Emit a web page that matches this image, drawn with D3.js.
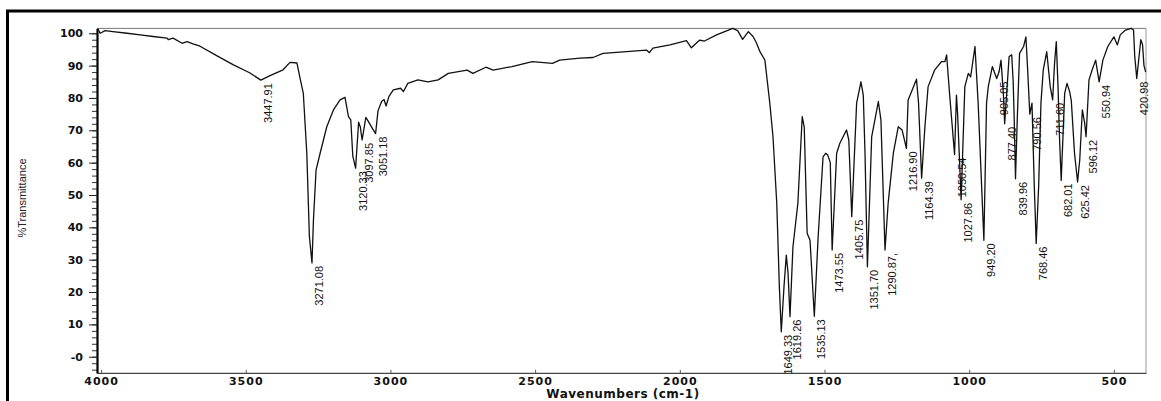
<!DOCTYPE html>
<html>
<head>
<meta charset="utf-8">
<script src="https://cdn.jsdelivr.net/npm/d3@7"></script>
<style>
  body { margin: 0; background: #fff; }
  svg { display: block; }
</style>
</head>
<body>
<div id="chart"></div>
<script>
const layout = {
    width: 1161,
    height: 401,
    left: 97,
    right: 1146,
    top: 28.4,
    bottom: 372.9
};

// spectrum (wavenumber in cm-1, %T)
const wavenumbers = [
    4012, 4003, 3986, 3959, 3910, 3865, 3820, 3772, 3768, 3751, 3720, 3703, 3682, 3658,
    3599, 3544, 3485, 3448, 3416, 3371, 3347, 3323, 3312, 3301, 3289, 3280, 3271.08,
    3266, 3257, 3243, 3220, 3197, 3174, 3157, 3145, 3137, 3130, 3120.33, 3110, 3104,
    3097.85, 3085, 3078, 3062, 3051.18, 3043, 3030, 3022, 3015, 3005, 2990, 2965, 2955,
    2940, 2905, 2870, 2835, 2800, 2735, 2715, 2670, 2645, 2580, 2510, 2440, 2415, 2345,
    2300, 2265, 2184, 2115, 2105, 2093, 2034, 1977, 1960, 1948, 1931, 1915, 1873, 1817,
    1800, 1783, 1763, 1747, 1735, 1723, 1706, 1689, 1678, 1665, 1656, 1649.33, 1640,
    1632, 1626, 1619.26, 1609, 1592, 1577, 1570, 1560, 1550, 1535.13, 1522, 1505, 1496,
    1489, 1480, 1473.55, 1458, 1447, 1424, 1416, 1405.75, 1389, 1374, 1366, 1360,
    1351.70, 1337, 1314, 1305, 1290.87, 1280, 1262, 1245, 1232, 1216.90, 1211, 1182,
    1175, 1164.39, 1153, 1142, 1119, 1096, 1084, 1078, 1067, 1050.54, 1044, 1040,
    1027.86, 1015, 1003, 995, 980, 969, 949.20, 940, 934, 920, 905.05, 897, 890, 882,
    877.40, 862, 853, 848, 844, 839.96, 834, 826, 812, 804, 798, 790.56, 783, 775,
    768.46, 760, 752, 744, 732, 720, 711.60, 705, 699, 693, 688, 682.01, 670, 662, 653,
    647, 636, 625.42, 618, 609, 601, 596.12, 586, 575, 563, 550.94, 538, 521, 500, 488,
    478, 460, 440, 432, 428, 420.98, 414, 407, 401, 396, 390
];
const transmittance = [
    101.5, 100, 100.8, 100.5, 100, 99.5, 99, 98.5, 98, 98.5, 96.9, 97.4, 96.7, 96,
    93, 90.3, 87.7, 85.5, 86.9, 88.7, 91, 90.8, 86, 81.4, 62.9, 37.1, 29,
    42.3, 57.7, 62.9, 71.1, 76.3, 79.4, 80.2, 74.2, 73.2, 62, 58.3, 72.5, 71,
    67, 74, 73, 70.5, 69, 76, 79, 79.5, 77.5, 80.5, 82.5, 83, 82,
    84.5, 85.6, 85, 85.6, 87.6, 88.6, 87.6, 89.5, 88.6, 89.7, 91.2, 90.7, 91.7, 92.3,
    92.5, 93.8, 94.3, 94.8, 94, 95.4, 96.4, 97.7, 95.5, 96.5, 97.9, 97.6, 99.5, 101.5,
    100.8, 98.1, 100.5, 99, 97, 94.3, 91.7, 78.4, 68, 47.5, 21.6, 7.7, 21.6,
    31.4, 25.8, 12.4, 34, 47.5, 74.2, 71, 38.2, 36, 12.5, 37, 61.8, 62.9,
    62.4, 60, 33, 62.9, 66, 70.1, 67, 43.3, 78.4, 85, 80.9, 62.9,
    27.8, 68, 78.9, 73.2, 33, 47.5, 63, 71.1, 70.1, 64.4, 79.4, 85.8,
    78.4, 55.2, 71.1, 83.5, 88.7, 91.2, 91.2, 93.3, 80.4, 62.5, 80.9, 75,
    48.5, 83.5, 87.6, 86.5, 95.9, 78.4, 36, 78.4, 83.5, 89.7, 86, 88, 91.7, 81.4,
    72, 92.8, 93.3, 85, 72, 55, 73, 93.8, 95.9, 98.9, 88.7, 75, 78.4, 52.6,
    35, 52.6, 78.4, 88.7, 94.3, 83.5, 79.4, 90.7, 97.4, 83.5, 68, 54.5, 81.4, 84.5, 82,
    79, 62.9, 54, 60.8, 76.3, 72.2, 68, 85.6, 88.7, 91.7, 85, 91.7, 95.9, 98.9, 96.4,
    99.5, 101, 101.5, 101, 93, 86, 92, 98, 96.5, 90, 88
];

// annotated minima
const peakWavenumbers = [3447.91, 3271.08, 3120.33, 3097.85, 3051.18, 1649.33, 1619.26, 1535.13,
    1473.55, 1405.75, 1351.70, 1290.87, 1216.90, 1164.39, 1050.54, 1027.86, 949.20, 905.05,
    877.40, 839.96, 790.56, 768.46, 711.60, 682.01, 625.42, 596.12, 550.94, 420.98];
const peakTransmittance = [85.5, 29, 58.3, 67, 69, 7.7, 12.4, 12.5,
    33, 43.3, 27.8, 33, 64.4, 55.2, 62.5, 48.5, 36, 86,
    72, 55, 75, 35, 79.4, 54.5, 54, 68, 85, 86];
const peakLabels = ["3447.91", "3271.08", "3120.33", "3097.85", "3051.18", "1649.33", "1619.26", "1535.13",
    "1473.55", "1405.75", "1351.70", "1290.87,", "1216.90", "1164.39", "1050.54", "1027.86", "949.20", "905.05",
    "877.40", "839.96", "790.56", "768.46", "711.60", "682.01", "625.42", "596.12", "550.94", "420.98"];

const xTicks = [4000, 3500, 3000, 2500, 2000, 1500, 1000, 500];
const yTicks = [100, 90, 80, 70, 60, 50, 40, 30, 20, 10, 0];
const yTickLabels = ["100", "90", "80", "70", "60", "50", "40", "30", "20", "10", "-0"];

let svg = d3.select("#chart").append("svg")
    .attr("width", layout.width)
    .attr("height", layout.height);

let xScale = d3.scaleLinear()
    .domain([4014, 389])
    .range([layout.left, layout.right]);
let yScale = d3.scaleLinear()
    .domain([-5, 101.5])
    .range([layout.bottom, layout.top]);

// outer frame of the scan
svg.append("rect")
    .attr("x", 7.5)
    .attr("y", 11)
    .attr("width", 1200)
    .attr("height", 420)
    .attr("fill", "none")
    .attr("stroke", "#000")
    .attr("stroke-width", 3);

// plot box: top and right edges are faint
svg.append("line")
    .attr("x1", layout.left).attr("x2", layout.right)
    .attr("y1", layout.top).attr("y2", layout.top)
    .attr("stroke", "#777").attr("stroke-width", 1);
svg.append("line")
    .attr("x1", layout.right).attr("x2", layout.right)
    .attr("y1", layout.top).attr("y2", layout.bottom)
    .attr("stroke", "#999").attr("stroke-width", 1);

// x axis
let xAxis = svg.append("g")
    .attr("transform", `translate(0,${layout.bottom})`)
    .call(d3.axisBottom(xScale).tickValues(xTicks).tickSizeInner(-3).tickSizeOuter(0)
        .tickPadding(4).tickFormat(d3.format("d")));
xAxis.select(".domain").attr("stroke", "#444").attr("stroke-width", 1.3);
xAxis.selectAll("line").attr("stroke", "#555");
xAxis.selectAll("text")
    .attr("font-family", "'DejaVu Sans', sans-serif")
    .attr("font-weight", "bold")
    .attr("font-size", 11)
    .attr("letter-spacing", 1)
    .attr("fill", "#111");

// y axis, minor ticks every 2
let yMinor = svg.append("g")
    .attr("transform", `translate(${layout.left},0)`)
    .call(d3.axisLeft(yScale).tickValues(d3.range(-4, 101, 2)).tickSize(5).tickFormat(""));
yMinor.select(".domain").remove();
yMinor.selectAll("line").attr("stroke", "#333");

let yAxis = svg.append("g")
    .attr("transform", `translate(${layout.left},0)`)
    .call(d3.axisLeft(yScale).tickValues(yTicks).tickSize(8).tickSizeOuter(0).tickPadding(6)
        .tickFormat((d, i) => yTickLabels[i]));
yAxis.select(".domain").attr("stroke", "#000").attr("stroke-width", 2.2);
yAxis.selectAll("line").attr("stroke", "#222");
yAxis.selectAll("text")
    .attr("font-family", "'DejaVu Sans', sans-serif")
    .attr("font-weight", "bold")
    .attr("font-size", 11)
    .attr("fill", "#111");

// axis titles
svg.append("text")
    .attr("transform", "translate(26,198) rotate(-90)")
    .attr("text-anchor", "middle")
    .attr("font-family", "'Liberation Sans Narrow', 'Arial Narrow', 'Liberation Sans', sans-serif")
    .attr("font-size", 11)
    .attr("fill", "#222")
    .text("%Transmittance");

svg.append("text")
    .attr("x", 623)
    .attr("y", 398)
    .attr("text-anchor", "middle")
    .attr("font-family", "'DejaVu Sans', sans-serif")
    .attr("font-weight", "bold")
    .attr("font-size", 12)
    .attr("letter-spacing", 0.5)
    .attr("fill", "#111")
    .text("Wavenumbers (cm-1)");

// the spectrum trace
let spectrum = wavenumbers.map((w, i) => ({ wn: w, t: transmittance[i] }));
svg.append("path")
    .datum(spectrum)
    .attr("fill", "none")
    .attr("stroke", "#111")
    .attr("stroke-width", 1.3)
    .attr("stroke-linejoin", "round")
    .attr("d", d3.line()
        .x(d => xScale(d.wn))
        .y(d => yScale(Math.min(d.t, 101.5)))
    );

// peak labels, written upwards just under each minimum
let peaks = peakWavenumbers.map((w, i) => ({ wn: w, t: peakTransmittance[i], label: peakLabels[i] }));
svg.append("g").selectAll("text")
    .data(peaks)
    .join("text")
    .attr("transform", d => `translate(${xScale(d.wn) + 11},${yScale(d.t) + 3}) rotate(-90)`)
    .attr("text-anchor", "end")
    .attr("font-family", "'Liberation Sans Narrow', 'Arial Narrow', 'Liberation Sans', sans-serif")
    .attr("font-size", 11)
    .attr("fill", "#111")
    .text(d => d.label);
</script>
</body>
</html>
